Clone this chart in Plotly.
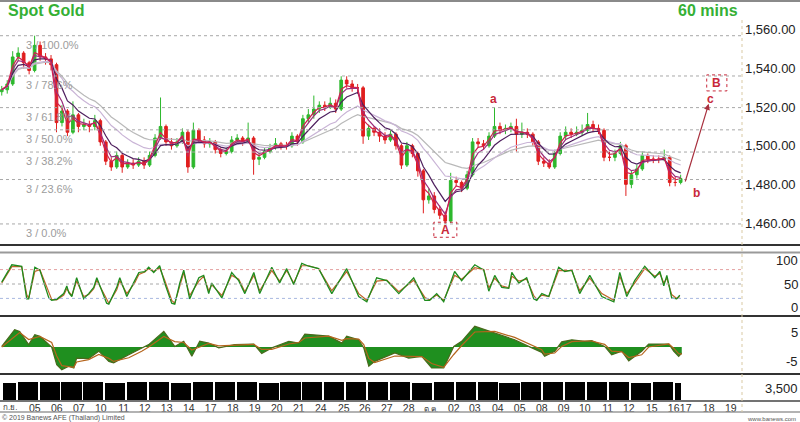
import numpy as np
import pandas as pd
import plotly.graph_objects as go

# Spot gold, 6-hour bars (4 per session), time in sessions from the left edge
closes = [
    1529, 1532, 1546, 1548, 1543, 1539, 1552, 1546, 1545, 1542,
    1512, 1518, 1507, 1516, 1510, 1511, 1510, 1513, 1502, 1492,
    1489, 1495, 1489, 1491, 1490, 1492, 1490, 1495, 1504, 1510,
    1502, 1500, 1502, 1507, 1489, 1508, 1503, 1501, 1502, 1498,
    1496, 1497, 1503, 1504, 1502, 1504, 1493, 1494, 1497, 1499,
    1501, 1500, 1500, 1505, 1502, 1514, 1516, 1519, 1521, 1520,
    1522, 1519, 1534, 1532, 1530, 1530, 1505, 1509, 1507, 1505,
    1503, 1506, 1500, 1490, 1500, 1496, 1487, 1472, 1474, 1467,
    1464, 1461, 1482, 1481, 1478, 1485, 1502, 1501, 1500, 1505,
    1510, 1508, 1509, 1510, 1506, 1507, 1506, 1502, 1492, 1491,
    1489, 1496, 1505, 1507, 1506, 1507, 1508, 1511, 1509, 1508,
    1494, 1494, 1496, 1500, 1480, 1485, 1488, 1495, 1493, 1493,
    1493, 1494, 1481, 1481, 1483,
]
highs = [
    1531, 1534, 1549, 1551, 1549, 1544, 1557, 1554, 1548, 1547,
    1543, 1521, 1519, 1523, 1517, 1514, 1513, 1516, 1514, 1503,
    1494, 1497, 1496, 1493, 1493, 1494, 1494, 1497, 1506, 1525,
    1511, 1504, 1504, 1509, 1508, 1512, 1509, 1505, 1504, 1503,
    1499, 1499, 1505, 1506, 1505, 1512, 1505, 1496, 1499, 1501,
    1504, 1502, 1502, 1507, 1506, 1516, 1519, 1526, 1523, 1523,
    1525, 1524, 1536, 1536, 1534, 1532, 1531, 1511, 1510, 1509,
    1507, 1508, 1507, 1501, 1502, 1501, 1497, 1488, 1478, 1476,
    1469, 1466, 1486, 1484, 1482, 1487, 1504, 1504, 1503, 1507,
    1520, 1512, 1511, 1512, 1514, 1512, 1509, 1507, 1503, 1494,
    1493, 1498, 1507, 1510, 1509, 1510, 1511, 1517, 1513, 1511,
    1509, 1497, 1498, 1502, 1501, 1487, 1490, 1497, 1496, 1495,
    1495, 1498, 1495, 1484, 1485,
]
lows = [
    1526, 1527, 1531, 1544, 1540, 1537, 1538, 1544, 1542, 1539,
    1507, 1510, 1505, 1506, 1507, 1508, 1507, 1508, 1500, 1490,
    1487, 1488, 1486, 1488, 1488, 1489, 1488, 1489, 1494, 1503,
    1500, 1498, 1499, 1501, 1486, 1488, 1501, 1499, 1499, 1496,
    1494, 1495, 1496, 1501, 1500, 1501, 1485, 1490, 1493, 1496,
    1498, 1498, 1498, 1499, 1500, 1501, 1512, 1514, 1517, 1518,
    1519, 1517, 1518, 1530, 1528, 1527, 1501, 1503, 1505, 1502,
    1501, 1502, 1498, 1488, 1489, 1494, 1484, 1465, 1470, 1465,
    1462, 1459.5, 1460, 1479, 1476, 1477, 1484, 1499, 1498, 1499,
    1504, 1506, 1506, 1507, 1497, 1504, 1504, 1500, 1490, 1489,
    1488, 1488, 1495, 1503, 1504, 1505, 1505, 1507, 1507, 1506,
    1492, 1492, 1492, 1495, 1474, 1478, 1483, 1487, 1491, 1491,
    1491, 1492, 1479, 1479, 1480,
]
opens = [1528] + closes[:-1]
candle_t = np.arange(len(closes)) * 0.25

# Stochastic, read at its turning points
stoch_t = [
    0, 0.37, 0.46, 0.91, 1.14, 1.23, 1.51, 1.74, 2.15, 2.28,
    2.51, 2.83, 2.97, 3.06, 3.20, 3.42, 3.74, 3.97, 4.20, 4.34,
    4.79, 4.89, 5.25, 5.39, 5.71, 6.07, 6.26, 6.53, 6.71, 6.94,
    7.21, 7.44, 7.76, 7.90, 8.13, 8.31, 8.58, 9.00, 9.22, 9.45,
    9.59, 10.05, 10.50, 10.82, 11.10, 11.51, 11.78, 12.33, 12.69, 13.01,
    13.33, 13.70, 14.02, 14.47, 15.07, 15.75, 16.30, 16.67, 17.12, 17.58,
    18.13, 18.81, 19.32, 19.54, 19.86, 20.18, 20.68, 21.00, 21.60, 22.01,
    22.24, 22.51, 22.83, 23.15, 23.29, 23.61, 23.97, 24.29, 24.43, 24.66,
    24.98, 25.43, 25.71, 26.03, 26.39, 26.85, 27.40, 27.95, 28.22, 28.54,
    28.90, 29.36, 29.82, 30.05, 30.23, 30.37, 30.59, 30.82, 30.96,
]
stoch_k = [
    54, 85, 90, 87, 19, 19, 85, 79, 21, 16,
    18, 30, 46, 32, 24, 63, 19, 30, 43, 63,
    10, 8, 43, 63, 24, 57, 74, 76, 85, 74,
    88, 52, 10, 8, 52, 79, 19, 63, 68, 30,
    52, 21, 74, 57, 30, 74, 30, 85, 52, 82,
    49, 93, 87, 82, 30, 82, 24, 13, 63, 57,
    30, 63, 16, 16, 30, 13, 76, 57, 90, 79,
    35, 68, 43, 41, 74, 52, 63, 19, 16, 30,
    24, 85, 76, 79, 30, 68, 24, 13, 74, 24,
    57, 87, 63, 76, 46, 68, 21, 19, 27,
]
stoch_d = [
    52, 78, 86, 86, 28, 20, 76, 80, 30, 18,
    17, 27, 40, 34, 26, 56, 24, 28, 40, 58,
    16, 10, 38, 57, 30, 52, 70, 75, 82, 76,
    84, 58, 16, 10, 46, 74, 26, 56, 66, 36,
    48, 26, 68, 60, 34, 68, 36, 78, 56, 78,
    52, 88, 88, 82, 36, 76, 30, 16, 56, 58,
    34, 58, 22, 17, 27, 16, 68, 60, 84, 80,
    42, 62, 46, 42, 66, 56, 60, 26, 18, 27,
    24, 78, 78, 78, 36, 62, 30, 16, 66, 30,
    52, 82, 66, 72, 52, 62, 28, 20, 24,
]

# MACD and its signal line
macd_t = [
    0, 0.59, 0.82, 1.23, 1.51, 1.74, 2.28, 2.51, 2.74, 3.06,
    3.29, 3.42, 3.97, 4.43, 4.89, 5.11, 5.80, 6.39, 6.71, 7.40,
    7.90, 8.31, 8.68, 9.04, 9.45, 9.91, 10.64, 11.51, 11.87, 12.33,
    13.11, 13.56, 13.84, 14.93, 15.53, 15.75, 16.30, 16.53, 16.76, 17.03,
    17.95, 18.58, 19.18, 19.63, 20.18, 20.64, 21.00, 21.60, 22.51, 23.42,
    24.06, 24.66, 24.79, 25.25, 25.57, 26.03, 26.62, 26.94, 27.53, 27.85,
    28.31, 28.63, 29.22, 29.54, 30.46, 30.68, 30.91, 31.05,
]
macd = [
    0.2, 5.8, 5.2, 0.8, 4.1, 3.6, 0, -5.9, -7.6, -6.4,
    -7.0, -3.7, -3.9, -1.4, -4.8, -5.3, -2.6, -0.3, 0.8, 5.2,
    0.2, 1.9, -3.1, 1.9, 1.3, -0.3, 0.8, 1.0, -2.2, -0.3,
    1.9, 1.3, 4.3, 3.6, 1.3, 3.6, 2.4, -0.3, -6.4, -4.8,
    -2.0, -3.7, -3.1, -7.0, -7.0, 0.2, 1.9, 6.9, 4.7, 2.4,
    0.2, -1.8, -3.1, -1.4, 1.7, 2.4, 1.9, 2.1, 0.2, -2.6,
    -1.4, -4.6, -1.4, 1.0, 1.0, -1.4, -3.1, -2.0,
]
macd_signal = [
    0.0, 3.5, 4.8, 2.5, 3.0, 3.5, 1.5, -3.0, -6.2, -6.6,
    -6.8, -5.0, -4.2, -2.5, -3.8, -4.8, -3.6, -1.4, 0.0, 3.5,
    1.8, 1.5, -1.0, 0.0, 1.2, 0.4, 0.6, 0.9, -0.8, -0.8,
    1.0, 1.5, 3.0, 3.6, 2.2, 2.8, 2.6, 0.8, -3.8, -5.2,
    -3.0, -3.2, -3.2, -5.5, -6.8, -2.5, 0.5, 5.0, 5.2, 3.2,
    1.0, -0.9, -2.4, -2.0, 0.2, 1.8, 2.0, 2.0, 0.9, -1.4,
    -1.6, -3.5, -2.6, 0.0, 1.0, -0.4, -2.2, -2.4,
]

# Volume per session (first and last sessions are partial)
session_start = [0] + [0.685 + k for k in range(31)]
session_end = [0.685 + k for k in range(31)] + [31.05]
volume = [
    5000, 5200, 5150, 5250, 5200, 5100, 5250, 5200, 5050, 5150,
    5200, 5150, 5100, 5250, 5200, 5250, 5300, 5150, 5200, 5100,
    5250, 5300, 5150, 5100, 5200, 5250, 5150, 5200, 5200, 5100,
    5250, 4900,
]

# Axis labels
price_ticks = [1460, 1480, 1500, 1520, 1540, 1560]
date_pos = [1.51, 2.51, 3.52, 4.52, 5.57, 6.53, 7.53, 8.54, 9.54,
            10.55, 11.55, 12.56, 13.56, 14.57, 15.62, 16.58, 17.58, 18.58, 19.59,
            20.64, 21.60, 22.65, 23.65, 24.66, 25.66, 26.62, 27.67, 28.63, 29.68,
            30.68, 31.23, 32.28, 33.29]
date_labels = ["05", "06", "07", "10", "11", "12", "13", "14", "17",
               "18", "19", "20", "21", "24", "25", "26", "27", "28", "<span style='font-size:8px'>ต.ค.</span>",
               "02", "03", "04", "05", "08", "09", "10", "11", "12", "15",
               "16", "17", "18", "19"]
first_month = "ก.ย."
fib_ratios = [1.0, 0.786, 0.618, 0.5, 0.382, 0.236, 0.0]
fib_names = ["3 / 100.0%", "3 / 78.6%", "3 / 61.8%", "3 / 50.0%", "3 / 38.2%", "3 / 23.6%", "3 / 0.0%"]

H, W = 422, 800
XR = 742 / W  # right edge of the plotting area


def py(px):
    return 1 - px / H


RED = "#c8283a"
fig = go.Figure()

fig.add_trace(go.Candlestick(
    x=candle_t, open=opens, high=highs, low=lows, close=closes,
    increasing=dict(line=dict(color="#2db82d", width=1), fillcolor="#2db82d"),
    decreasing=dict(line=dict(color="#e01e1e", width=1), fillcolor="#e01e1e"),
    whiskerwidth=0, xaxis="x", yaxis="y", hoverinfo="skip",
))

close_s = pd.Series(closes, dtype=float)
for span, color in [(22, "#b9b9b9"), (14, "#c9b4d6"), (6, "#4e1f5e"), (3, "#9b2d7d"), (2, "#d1204f")]:
    fig.add_trace(go.Scatter(
        x=candle_t, y=close_s.ewm(span=span).mean(), mode="lines",
        line=dict(color=color, width=1.2), xaxis="x", yaxis="y", hoverinfo="skip",
    ))

fig.add_trace(go.Scatter(x=stoch_t, y=stoch_d, mode="lines", line=dict(color="#c0652a", width=1.2),
                         xaxis="x", yaxis="y2", hoverinfo="skip"))
fig.add_trace(go.Scatter(x=stoch_t, y=stoch_k, mode="lines", line=dict(color="#1e8c1e", width=1.3),
                         xaxis="x", yaxis="y2", hoverinfo="skip"))

fig.add_trace(go.Scatter(x=macd_t, y=macd, mode="lines", fill="tozeroy", fillcolor="#1f8f1f",
                         line=dict(color="#4a6a1c", width=1.2), xaxis="x", yaxis="y3", hoverinfo="skip"))
fig.add_trace(go.Scatter(x=macd_t, y=macd_signal, mode="lines", line=dict(color="#b5651d", width=1.2),
                         xaxis="x", yaxis="y3", hoverinfo="skip"))

vol_x = [(s + e) / 2 for s, e in zip(session_start, session_end)]
vol_w = [(e - s) - 0.08 for s, e in zip(session_start, session_end)]
fig.add_trace(go.Bar(x=vol_x, y=volume, width=vol_w, marker=dict(color="black", line=dict(width=0)),
                     xaxis="x", yaxis="y4", hoverinfo="skip"))

shapes = []
annotations = []

# Fibonacci retracement from the swing high / low
hi, lo = max(highs), min(lows)
for r, name in zip(fib_ratios, fib_names):
    lvl = lo + r * (hi - lo)
    shapes.append(dict(type="line", xref="paper", yref="y", x0=0, x1=XR, y0=lvl, y1=lvl,
                       line=dict(color="#a8a8a8", width=1, dash="dot")))
    annotations.append(dict(xref="paper", yref="y", x=24 / W, y=lvl, text=name, showarrow=False,
                            xanchor="left", yanchor="top", yshift=-1,
                            font=dict(size=11, color="#9c9c9c")))

# Stochastic guide lines
for lvl, color in [(80, "#e4a0a0"), (50, "#a8a8a8"), (20, "#a8b8e0")]:
    shapes.append(dict(type="line", xref="paper", yref="y2", x0=0, x1=XR, y0=lvl, y1=lvl,
                       line=dict(color=color, width=1, dash="dot")))

# panel separators
for ypx, color, w in [(1, "#8a8a8a", 2), (245, "#333333", 2), (252.5, "#9a9a9a", 2), (316, "#333333", 2),
                      (374, "#333333", 2), (401, "#444444", 1.5), (412, "#9a9a9a", 1.5)]:
    shapes.append(dict(type="line", xref="paper", yref="paper", x0=0, x1=1, y0=py(ypx), y1=py(ypx),
                       line=dict(color=color, width=w)))
shapes.append(dict(type="line", xref="paper", yref="paper", x0=XR, x1=XR, y0=py(20), y1=py(412),
                   line=dict(color="#d9c9a3", width=1, dash="dot")))

# Elliott wave marks
shapes.append(dict(type="rect", xref="x", yref="y", x0=19.73, x1=20.78, y0=1452.6, y1=1460.4,
                   line=dict(color=RED, width=1, dash="dot")))
shapes.append(dict(type="rect", xref="x", yref="y", x0=32.19, x1=33.11, y0=1528.4, y1=1536.7,
                   line=dict(color=RED, width=1, dash="dot")))
for txt, xx, yy in [("A", 20.25, 1456.5), ("B", 32.65, 1532.5), ("a", 22.47, 1524.0),
                    ("c", 32.37, 1524.3), ("b", 31.74, 1475.5)]:
    annotations.append(dict(xref="x", yref="y", x=xx, y=yy, text=f"<b>{txt}</b>", showarrow=False,
                            font=dict(size=12, color=RED)))
annotations.append(dict(xref="x", yref="y", axref="x", ayref="y", x=32.28, y=1521.7, ax=31.19, ay=1480.7,
                        text="", showarrow=True, arrowhead=2, arrowsize=1, arrowwidth=1.2,
                        arrowcolor="#a8303e"))

# titles
annotations.append(dict(xref="paper", yref="paper", x=6 / W, y=py(10.5), text="<b>Spot Gold</b>",
                        showarrow=False, xanchor="left", yanchor="middle",
                        font=dict(size=16, color="#35b035")))
annotations.append(dict(xref="paper", yref="paper", x=740 / W, y=py(10.5), text="<b>60 mins</b>",
                        showarrow=False, xanchor="right", yanchor="middle",
                        font=dict(size=16, color="#35b035")))

# right-hand labels of the lower panels
for yref, val, txt in [("y2", 100, "100"), ("y2", 50, "50"), ("y2", 0, "0"),
                       ("y3", 5, "5"), ("y3", -5, "-5"), ("y4", 3500, "3,500")]:
    annotations.append(dict(xref="paper", yref=yref, x=1, y=val, text=txt, showarrow=False,
                            xanchor="right", yanchor="middle", font=dict(size=13, color="#222")))

# month label at the left edge of the date row
annotations.append(dict(xref="paper", yref="paper", x=1 / W, y=py(407.5), text=first_month,
                        showarrow=False, xanchor="left", yanchor="middle", font=dict(size=8, color="#333")))

# footer
annotations.append(dict(xref="paper", yref="paper", x=0, y=py(417.5), text="© 2019 Banews AFE (Thailand) Limited",
                        showarrow=False, xanchor="left", yanchor="middle", font=dict(size=7, color="#555")))
annotations.append(dict(xref="paper", yref="paper", x=798 / W, y=py(419), text="www.banews.com",
                        showarrow=False, xanchor="right", yanchor="middle", font=dict(size=6, color="#555")))

fig.update_layout(
    width=W, height=H, margin=dict(l=0, r=0, t=0, b=0),
    paper_bgcolor="white", plot_bgcolor="white", showlegend=False,
    font=dict(family="Arial, Liberation Sans, sans-serif", color="#222"),
    xaxis=dict(domain=[0, XR], range=[-0.08, 742 / 21.9 - 0.08], anchor="y4",
               tickmode="array", tickvals=date_pos, ticktext=date_labels, ticks="", tickangle=0,
               tickfont=dict(size=10.5, color="#333"), showgrid=False, zeroline=False,
               showline=False, rangeslider=dict(visible=False), ticklabelstandoff=0),
    yaxis=dict(domain=[py(245), py(22)], range=[1448.6, 1564.1], anchor="x", side="right",
               tickmode="array", tickvals=price_ticks, tickformat=",.2f", ticks="",
               tickfont=dict(size=13, color="#222"), showgrid=False, zeroline=False, ticklabelstandoff=2),
    yaxis2=dict(domain=[py(315), py(253)], range=[-14.6, 114.6], anchor="x",
                showticklabels=False, showgrid=False, zeroline=False),
    yaxis3=dict(domain=[py(373), py(318)], range=[-8.67, 9.67], anchor="x",
                showticklabels=False, showgrid=False, zeroline=False),
    yaxis4=dict(domain=[py(400), py(377)], range=[0, 6708], anchor="x",
                showticklabels=False, showgrid=False, zeroline=False),
    shapes=shapes, annotations=annotations, bargap=0,
)

# page margin off so the 800x422 figure fills the window
fig.write_html("out.html", config={"displayModeBar": False},
               post_script="document.body.style.margin='0';document.body.style.overflow='hidden';")
